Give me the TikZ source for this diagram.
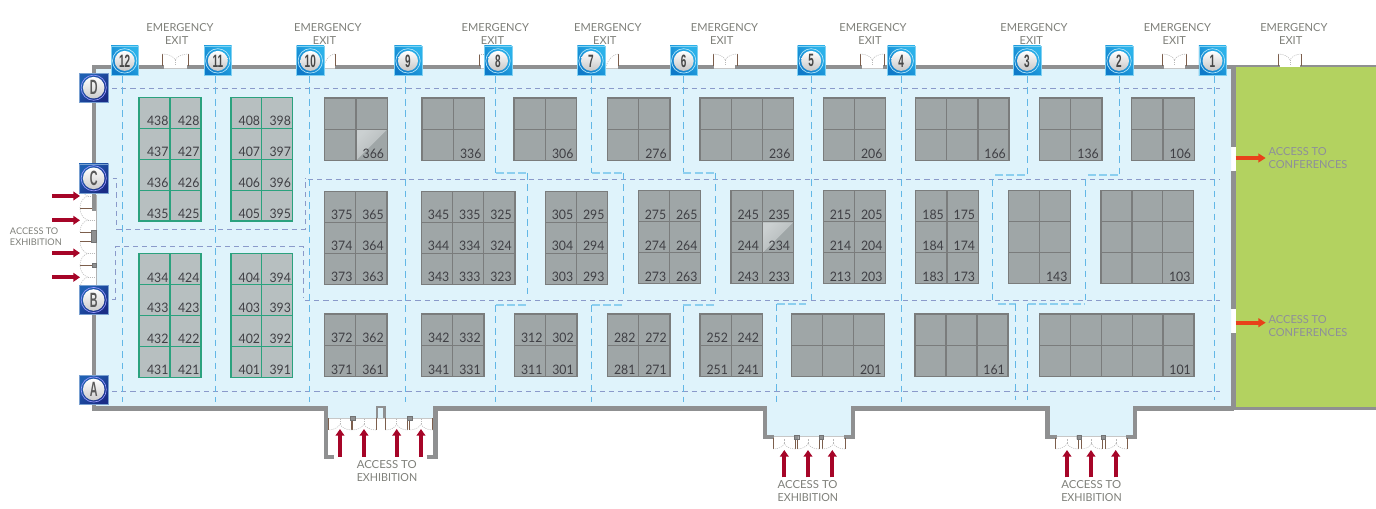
\documentclass[tikz,border=0pt]{standalone}
\usepackage{fontspec}
\usepackage{graphicx}
\setmainfont{Lato}
\newfontfamily\badgefont{Liberation Sans}[Scale=1]
\usetikzlibrary{arrows.meta}
\definecolor{floorblue}{HTML}{DFF3FB}
\definecolor{wallgrey}{HTML}{8F9091}
\definecolor{boothgrey}{HTML}{9FA6A7}
\definecolor{boothline}{HTML}{7A7C7C}
\definecolor{greenbooth}{HTML}{B7BFC0}
\definecolor{greenline}{HTML}{2BA27E}
\definecolor{confgreen}{HTML}{B3D260}
\definecolor{dashdark}{HTML}{8A9ACA}
\definecolor{dashlight}{HTML}{62B7E6}
\definecolor{dashjog}{HTML}{8CCFEF}
\definecolor{arrowred}{HTML}{A60528}
\definecolor{arroworange}{HTML}{E8411A}
\definecolor{captext}{HTML}{7F807A}
\definecolor{conftext}{HTML}{8E8F9A}
\definecolor{numtext}{HTML}{3F3F44}
\definecolor{jamb}{HTML}{7C5E4C}
\definecolor{badgelow}{HTML}{0E7AC9}
\definecolor{badgehigh}{HTML}{2BB2EA}
\definecolor{letterlow}{HTML}{1A2C86}
\definecolor{letterhigh}{HTML}{1F60B2}
\definecolor{glasshigh}{HTML}{CBD0D1}
\definecolor{glasslow}{HTML}{AEB4B5}
\tikzset{
  wall/.style={draw=wallgrey,line width=3.3pt,line join=miter,line cap=butt},
  greycell/.style={fill=boothgrey,draw=boothline,line width=.9pt},
  greencell/.style={fill=greenbooth,draw=greenline,line width=.9pt},
  numlabel/.style={font=\fontsize{9.8}{10}\selectfont,text=numtext,inner sep=0pt,anchor=base east},
  caplabel/.style={font=\fontsize{8.3}{10}\selectfont,text=captext,inner sep=0pt,anchor=mid},
  smalllabel/.style={font=\fontsize{6.9}{8}\selectfont,text=captext,inner sep=0pt,anchor=mid west},
  conflabel/.style={font=\fontsize{8.3}{10}\selectfont,text=conftext,inner sep=0pt,anchor=mid west},
  darkdash/.style={draw=dashdark,line width=.7pt,dash pattern=on 3.9pt off 3pt},
  lightdash/.style={draw=dashlight,line width=.7pt,dash pattern=on 5pt off 3.6pt},
  jogdash/.style={draw=dashjog,line width=1pt,dash pattern=on 6pt off 2.4pt},
  redarrow/.style={draw=arrowred,line width=3pt,-{Triangle[length=5pt,width=6.5pt]}},
  orangearrow/.style={draw=arroworange,line width=3.2pt,-{Triangle[length=5.5pt,width=6.5pt]}},
  jambline/.style={draw=jamb,line width=.6pt},
  swing/.style={draw=black!28,line width=.4pt,dash pattern=on .8pt off .8pt},
  postblock/.style={fill=wallgrey,draw=wallgrey!80!black,line width=.3pt},
}
\def\boothhl{}
% style, label inset, x0,y0,x1,y1, cols, rows, labels col/row/text
\newcommand\booth[9]{%
  \path[#1,draw=none] (#3,#4) rectangle (#5,#6);
  \boothhl\global\let\boothhl\relax
  \pgfmathtruncatemacro\nc{#7-1}\pgfmathtruncatemacro\nr{#8-1}%
  \foreach \i in {1,...,\nc}{\pgfmathsetmacro\xx{#3+(#5-#3)*\i/#7}\draw[#1,fill=none] (\xx,#4)--(\xx,#6);}
  \foreach \i in {1,...,\nr}{\pgfmathsetmacro\yy{#4+(#6-#4)*\i/#8}\draw[#1,fill=none] (#3,\yy)--(#5,\yy);}
  \draw[#1,fill=none] (#3,#4) rectangle (#5,#6);
  \foreach \cc/\rr/\lab in {#9}{%
    \pgfmathsetmacro\xr{#3+(#5-#3)*\cc/#7}\pgfmathsetmacro\yb{#4+(#6-#4)*\rr/#8}%
    \node[numlabel] (n\lab) at (\xr-#2,\yb-2.6) {\scalebox{.94}[1]{\lab}};}
}
% xc,yc,half width,jamb length,rotation
\newcommand\door[5]{%
  \begin{scope}[shift={(#1,#2)},rotate=#5]
    \draw[jambline] (-#3,0)--(-#3,-#4) (#3,0)--(#3,-#4);
    \draw[swing] (-#3,-#4) .. controls (-.55*#3,-#4) and (-.12*#3,-.8*#4) .. (0,-.5*#4)
                 .. controls (.12*#3,-.8*#4) and (.55*#3,-#4) .. (#3,-#4);
    \draw[swing] (0,-.5*#4)--(0,-.05*#4);
  \end{scope}}
\newcommand\numbadge[2]{%
  \path[draw=badgehigh!60!white,line width=.3pt,bottom color=badgelow,top color=badgehigh,shading angle=-45] (#1-13.7,46) rectangle (#1+13.7,75.7);
  \draw[white!70!cyan,line width=.5pt] (#1,60.9) circle (12.2);
  \shade[top color=white,bottom color=black!22] (#1,60.9) circle (10);
  \node[inner sep=0pt,text=black!72,font=\badgefont\bfseries\fontsize{13.4}{14}\selectfont] (b#2) at (#1,60.9) {\scalebox{.56}[1]{#2}};}
\newcommand\letterbadge[2]{%
  \path[draw=letterhigh!60!white,line width=.3pt,top color=letterhigh,bottom color=letterlow,shading angle=45] (79,#1-14.5) rectangle (108.3,#1+14.5);
  \draw[white!60!blue,line width=.5pt] (93.7,#1) circle (12.6);
  \shade[top color=white,bottom color=black!20] (93.7,#1) circle (10.8);
  \node[inner sep=0pt,text=black!65,font=\badgefont\bfseries\fontsize{15.5}{16}\selectfont] (b#2) at (93.7,#1) {\scalebox{.52}[1]{#2}};}
\newcommand\exitlabel[3]{%
  \node[caplabel] (ee#1) at (#2,28) {EMERGENCY};
  \node[caplabel] (ex#1) at (#3,41.3) {EXIT};}
\newcommand\accesslabel[4]{%
  \node[caplabel,anchor=mid west] (aa#1) at (#2,#3) {\scalebox{1.03}[1]{ACCESS TO}};
  \node[caplabel,anchor=mid west] (ab#1) at (#2,#4) {\scalebox{.97}[1]{EXHIBITION}};}
\begin{document}
\begin{tikzpicture}[x=.75pt,y=-.75pt]
\path[use as bounding box,fill=white] (0,0) rectangle (1376,509);
% floor and conference area
\fill[floorblue] (96,68.5)--(1231,68.5)--(1231,407)--(1133,407)--(1133,436)--(1050,436)--(1050,407)--(851,407)--(851,436)--(766,436)--(766,407)--(434,407)--(434,418)--(327,418)--(327,407)--(96,407)--cycle;
\fill[confgreen] (1235.5,67)--(1376,67)--(1376,407.5)--(1235.5,407.5)--cycle;
\draw[black!22,line width=.5pt] (96,68.6)--(1231,68.6);
\draw[black!30,line width=.5pt] (96,195)--(96,288);
\draw[black!22,line width=.5pt] (327,418)--(434,418) (766,436.5)--(851,436.5) (1050,436.5)--(1133,436.5);
% dark dashed aisles
\draw[darkdash] (112,88.3)--(1220,88.3);
\draw[darkdash] (112,391.7)--(1220,391.7);
\draw[darkdash] (112.5,178.3)--(116.7,178.3)--(116.7,229.3)--(121.7,229.3)--(305,229.3)--(305,178.3);
\draw[darkdash] (308,179)--(1220,179);
\draw[darkdash] (112,299.3)--(115,299.3)--(115,246.7)--(303.6,246.7)--(303.6,298);
\draw[darkdash] (305,300)--(1220,300);
% light dashed aisles
\foreach \vx in {122.3,215.3,309,405.3,901.7}{\draw[lightdash] (\vx,76)--(\vx,402);}
\draw[lightdash] (1214.3,76)--(1214.3,400);
\draw[lightdash] (495.7,76)--(495.7,173);
\draw[lightdash] (527.7,173)--(527.7,299);
\draw[lightdash] (495.7,305)--(495.7,402);
\draw[jogdash] (495.7,173)--(527.7,173) (495.7,305)--(527.7,305);
\draw[lightdash] (591.7,76)--(591.7,173);
\draw[lightdash] (623.7,173)--(623.7,299);
\draw[lightdash] (591.7,305)--(591.7,402);
\draw[jogdash] (591.7,173)--(623.7,173) (591.7,305)--(623.7,305);
\draw[lightdash] (683.3,76)--(683.3,173);
\draw[lightdash] (715.7,173)--(715.7,299);
\draw[lightdash] (683.3,305)--(683.3,402);
\draw[jogdash] (683.3,173)--(715.7,173) (683.3,305)--(715.7,305);
\draw[lightdash] (811.7,76)--(811.7,300);
\draw[lightdash] (776.7,304)--(776.7,402);
\draw[jogdash] (776.7,304)--(806,304);
\draw[lightdash] (1027.7,76)--(1027.7,175);
\draw[jogdash] (995,175)--(1027.7,175);
\draw[lightdash] (992.7,179)--(992.7,304);
\draw[jogdash] (998,304)--(1015.7,304);
\draw[lightdash] (1015.7,304)--(1015.7,400);
\draw[lightdash] (1119,76)--(1119,175);
\draw[jogdash] (1088,175)--(1119,175);
\draw[lightdash] (1085,179)--(1085,304);
\draw[jogdash] (1027.7,304)--(1085,304);
\draw[lightdash] (1027.7,304)--(1027.7,400);
% green booths
\booth{greencell}{1.3}{139}{97.5}{201}{221}{2}{4}{1/1/438,1/2/437,1/3/436,1/4/435,2/1/428,2/2/427,2/3/426,2/4/425}
\booth{greencell}{1.5}{231}{97.5}{292.7}{221}{2}{4}{1/1/408,1/2/407,1/3/406,1/4/405,2/1/398,2/2/397,2/3/396,2/4/395}
\booth{greencell}{1.3}{139}{253.7}{201}{377.3}{2}{4}{1/1/434,1/2/433,1/3/432,1/4/431,2/1/424,2/2/423,2/3/422,2/4/421}
\booth{greencell}{1.5}{231}{253.7}{292.7}{377.3}{2}{4}{1/1/404,1/2/403,1/3/402,1/4/401,2/1/394,2/2/393,2/3/392,2/4/391}
% top row
\def\boothhl{\shade[top color=glasshigh,bottom color=glasslow,shading angle=45] (356,129.4)--(387.3,129.4)--(356,160.7)--cycle;}
\booth{greycell}{3}{324.7}{98}{387.3}{160.7}{2}{2}{2/2/366}
\booth{greycell}{3}{422}{98}{484.7}{160.7}{2}{2}{2/2/336}
\booth{greycell}{3}{514}{98}{576.7}{160.7}{2}{2}{2/2/306}
\booth{greycell}{3}{607.3}{98}{670}{160.7}{2}{2}{2/2/276}
\booth{greycell}{3}{700}{98}{793.7}{160.7}{3}{2}{3/2/236}
\booth{greycell}{3}{823.3}{98}{885.7}{160.7}{2}{2}{2/2/206}
\booth{greycell}{3}{915.7}{98}{1009}{160.7}{3}{2}{3/2/166}
\booth{greycell}{3}{1039.3}{98}{1102}{160.7}{2}{2}{2/2/136}
\booth{greycell}{3}{1131.7}{98}{1194.3}{160.7}{2}{2}{2/2/106}
% middle row
\booth{greycell}{3}{324.3}{191.3}{387}{284.3}{2}{3}{1/1/375,1/2/374,1/3/373,2/1/365,2/2/364,2/3/363}
\booth{greycell}{3}{421.3}{191.3}{515}{284.3}{3}{3}{1/1/345,1/2/344,1/3/343,2/1/335,2/2/334,2/3/333,3/1/325,3/2/324,3/3/323}
\booth{greycell}{3}{545.3}{191.3}{607.7}{284.3}{2}{3}{1/1/305,1/2/304,1/3/303,2/1/295,2/2/294,2/3/293}
\booth{greycell}{3}{638.3}{190.7}{700.7}{283.7}{2}{3}{1/1/275,1/2/274,1/3/273,2/1/265,2/2/264,2/3/263}
\def\boothhl{\shade[top color=glasshigh,bottom color=glasslow,shading angle=45] (762.2,222.4)--(793.3,222.4)--(762.2,253.2)--cycle;}
\booth{greycell}{3}{731}{190.7}{793.3}{283.7}{2}{3}{1/1/245,1/2/244,1/3/243,2/1/235,2/2/234,2/3/233}
\booth{greycell}{3}{823.3}{190.7}{885.7}{283.7}{2}{3}{1/1/215,1/2/214,1/3/213,2/1/205,2/2/204,2/3/203}
\booth{greycell}{3}{915.7}{190.7}{978.3}{283.7}{2}{3}{1/1/185,1/2/184,1/3/183,2/1/175,2/2/174,2/3/173}
\booth{greycell}{3}{1008.3}{190.7}{1070.7}{283.7}{2}{3}{2/3/143}
\booth{greycell}{3}{1101}{190.7}{1193.7}{283.7}{3}{3}{3/3/103}
% bottom row
\booth{greycell}{3}{324.3}{314}{387}{376.7}{2}{2}{1/1/372,1/2/371,2/1/362,2/2/361}
\booth{greycell}{3}{421.7}{314}{484}{376.7}{2}{2}{1/1/342,1/2/341,2/1/332,2/2/331}
\booth{greycell}{3}{514.3}{314}{577}{376.7}{2}{2}{1/1/312,1/2/311,2/1/302,2/2/301}
\booth{greycell}{3}{607.3}{314}{670}{376.7}{2}{2}{1/1/282,1/2/281,2/1/272,2/2/271}
\booth{greycell}{3}{700}{314}{762.3}{376.7}{2}{2}{1/1/252,1/2/251,2/1/242,2/2/241}
\booth{greycell}{3}{791.3}{314}{884.7}{376.7}{3}{2}{3/2/201}
\booth{greycell}{3}{915}{314}{1008}{376.7}{3}{2}{3/2/161}
\booth{greycell}{3}{1039.3}{314}{1194}{376.7}{5}{2}{5/2/101}
% walls
\draw[wall] (94,195)--(94,67)--(164,67);
\draw[wall] (187,67)--(324,67) (335,67)--(481,67) (484,67)--(605,67) (618,67)--(714.3,67) (735,67)--(862,67) (883,67)--(1164,67) (1185,67)--(1233.5,67);
\draw[draw=wallgrey,line width=1.8pt] (1233,66)--(1280,66) (1300,66)--(1376,66);
\draw[wall] (94,285)--(94,408.5)--(325.7,408.5)--(325.7,457.2)--(334,457.2);
\draw[wall] (426.7,457.2)--(435.5,457.2)--(435.5,408.5)--(764.7,408.5)--(764.7,437.2)--(774,437.2);
\draw[wall] (844,437.2)--(852.8,437.2)--(852.8,408.5)--(1047.5,408.5)--(1047.5,437.2)--(1056.7,437.2);
\draw[wall] (1126,437.2)--(1135,437.2)--(1135,408.5)--(1233.5,408.5);
\draw[draw=wallgrey,line width=2.2pt] (1233.5,408.6)--(1376,408.6);
\draw[wall] (1233.5,67)--(1233.5,147.3) (1233.5,170.7)--(1233.5,309.3) (1233.5,333.3)--(1233.5,410);
\draw[draw=wallgrey,line width=1.7pt] (377,418)--(377,407)--(384.5,407)--(384.5,418);
% top doors
\door{175.3}{66}{13}{12}{0}
\door{725.3}{66}{12}{12}{0}
\door{872.3}{66}{12}{12}{0}
\door{1174.5}{66}{12.2}{12}{0}
\door{1290}{66}{11.7}{12}{0}
\draw[jambline] (335,66)--(335,54) (618.3,66)--(618.3,54) (479,66)--(479,54);
\draw[swing] (335,54) .. controls (330,54) and (325,60) .. (324,66);
\draw[swing] (618.3,54) .. controls (613,54) and (608,60) .. (606,66);
\draw[swing] (479,54)--(484,54);
% left doors
\door{95}{196}{12}{15}{90}
\door{95}{220}{12}{15}{90}
\door{95}{253.5}{11.7}{15}{90}
\door{95}{277}{12}{15}{90}
\fill[postblock] (91,230.7) rectangle (96,242.3);
\fill[postblock] (92,263) rectangle (96,267.5);
\fill[wallgrey] (92,195) rectangle (96,210.7);
% bottom doors
\door{340}{418}{11.7}{12}{180}
\door{364}{418}{12}{12}{180}
\door{396.7}{418}{11}{12}{180}
\door{421}{418}{11.7}{12}{180}
\door{784.3}{438}{11}{11}{180}
\door{808}{438}{11}{11}{180}
\door{833.5}{438}{11.5}{11}{180}
\door{1067}{438}{11.5}{11}{180}
\door{1091.5}{438}{10.5}{11}{180}
\door{1116}{438}{11}{11}{180}
\fill[postblock] (350,416) rectangle (355,420) (407,416) rectangle (412,420);
\fill[postblock] (794,435.3) rectangle (798.7,439.3) (819,435.3) rectangle (823.3,439.3);
\fill[postblock] (1076.7,435.3) rectangle (1081.3,439.3) (1101,435.3) rectangle (1105.5,439.3);
% red arrows
\foreach \ay in {196,220.3,253,277.3}{\draw[redarrow] (52,\ay)--(80,\ay);}
\foreach \ax in {340,364,396.7,421}{\draw[redarrow] (\ax,456.7)--(\ax,429);}
\foreach \ax in {784.3,808,832.3,1067,1091,1115.7}{\draw[redarrow] (\ax,477.3)--(\ax,450);}
\draw[orangearrow] (1235.7,158)--(1265.7,158);
\draw[orangearrow] (1235.7,322.7)--(1265.7,322.7);
% badges
\numbadge{124.7}{12}
\numbadge{217.8}{11}
\numbadge{310.3}{10}
\numbadge{408}{9}
\numbadge{498}{8}
\numbadge{591}{7}
\numbadge{683.7}{6}
\numbadge{811.2}{5}
\numbadge{901.2}{4}
\numbadge{1027}{3}
\numbadge{1119}{2}
\numbadge{1212.5}{1}
\letterbadge{87.7}{D}
\letterbadge{178.3}{C}
\letterbadge{300}{B}
\letterbadge{389.5}{A}
% texts
\exitlabel{a}{180}{176.7}
\exitlabel{b}{327.8}{324.5}
\exitlabel{c}{495.3}{492.5}
\exitlabel{d}{607.8}{604.8}
\exitlabel{e}{724.5}{721.7}
\exitlabel{f}{873}{870}
\exitlabel{g}{1034}{1031.3}
\exitlabel{h}{1177.3}{1174.3}
\exitlabel{i}{1293.8}{1290.7}
\accesslabel{a}{356.5}{465.3}{478.6}
\accesslabel{b}{777.3}{485.3}{498.6}
\accesslabel{c}{1061}{485.3}{498.6}
\node[smalllabel] (ala) at (9.7,230.9) {ACCESS TO};
\node[smalllabel] (alb) at (9.7,241.9) {EXHIBITION};
\node[conflabel] (cfa) at (1268.3,152) {ACCESS TO};
\node[conflabel] (cfb) at (1268.3,165.3) {CONFERENCES};
\node[conflabel] (cfc) at (1268.3,320.3) {ACCESS TO};
\node[conflabel] (cfd) at (1268.3,333) {CONFERENCES};
\end{tikzpicture}
\end{document}
